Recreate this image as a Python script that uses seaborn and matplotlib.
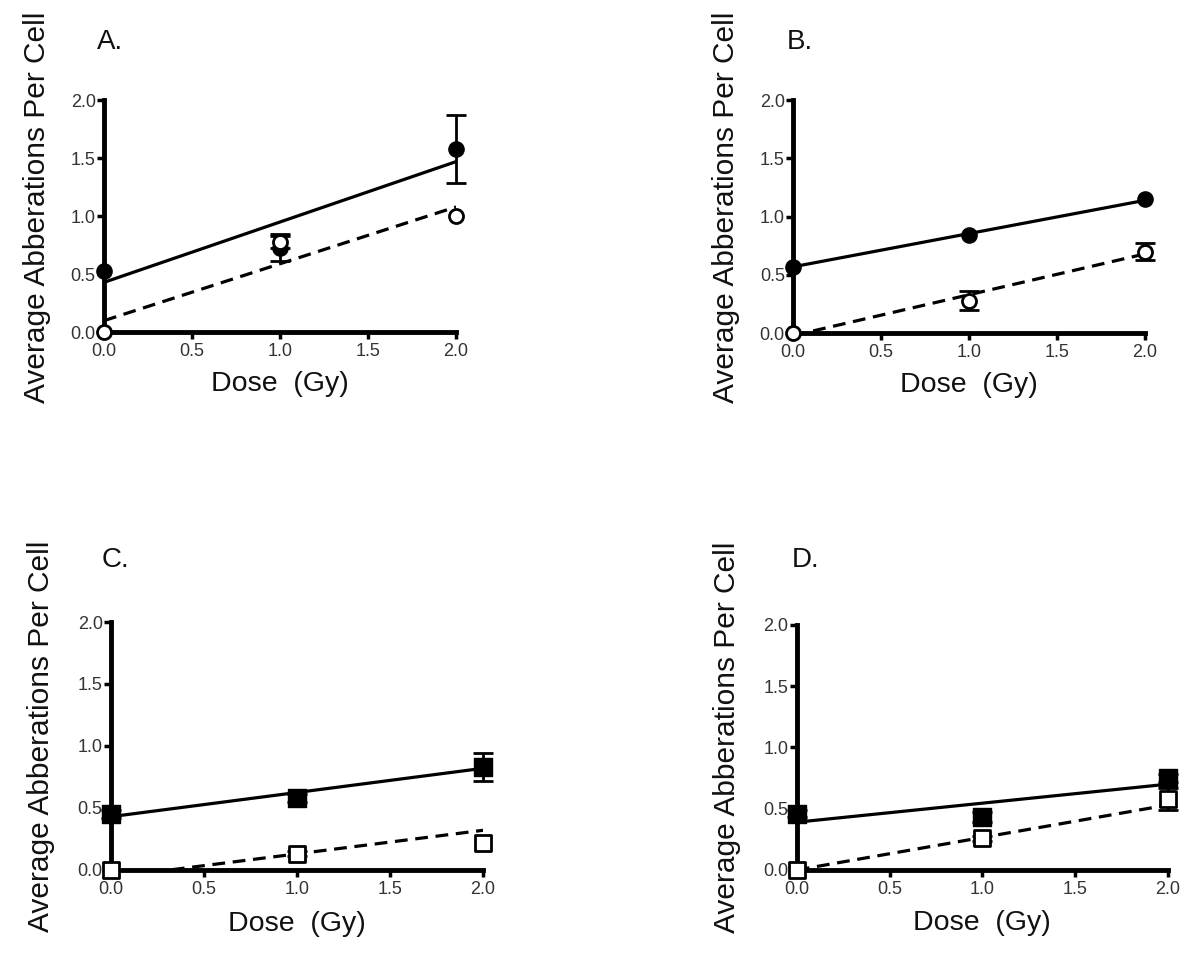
import numpy as np
import pandas as pd
import seaborn as sns
import matplotlib
matplotlib.use("Agg")
import matplotlib.pyplot as plt

# ------------------------------
# Data
# ------------------------------
dose = [0.0, 1.0, 2.0]
panels = ["A.", "B.", "C.", "D."]

a_filled = [0.53, 0.73, 1.58]
a_filled_err = [0.0, 0.12, 0.29]
a_open = [0.0, 0.78, 1.00]
a_open_err = [0.0, 0.05, 0.0]

b_filled = [0.57, 0.84, 1.15]
b_filled_err = [0.0, 0.0, 0.0]
b_open = [0.0, 0.28, 0.70]
b_open_err = [0.0, 0.08, 0.07]

c_filled = [0.45, 0.58, 0.83]
c_filled_err = [0.03, 0.03, 0.11]
c_open = [0.0, 0.13, 0.22]
c_open_err = [0.0, 0.02, 0.0]

d_filled = [0.46, 0.43, 0.75]
d_filled_err = [0.03, 0.04, 0.03]
d_open = [0.0, 0.26, 0.58]
d_open_err = [0.0, 0.02, 0.09]

# linear fit lines (intercept, slope) as drawn in the figure
fit_solid_intercept = [0.43, 0.57, 0.43, 0.39]
fit_solid_slope = [0.52, 0.285, 0.195, 0.155]
fit_dashed_intercept = [0.10, -0.02, -0.06, 0.0]
fit_dashed_slope = [0.49, 0.35, 0.19, 0.265]

filled = [a_filled, b_filled, c_filled, d_filled]
filled_err = [a_filled_err, b_filled_err, c_filled_err, d_filled_err]
opened = [a_open, b_open, c_open, d_open]
opened_err = [a_open_err, b_open_err, c_open_err, d_open_err]
marker_shape = ["o", "o", "s", "s"]

# ------------------------------
# Style
# ------------------------------
sns.set_style("ticks")
plt.rcParams['font.family'] = ['Liberation Sans', 'DejaVu Sans']

fig = plt.figure(figsize=(12, 9.63), dpi=100)

# axes rectangles [left, bottom, width, height]
rects = [
    [0.0867, 0.655, 0.2933, 0.241],
    [0.661, 0.654, 0.293, 0.242],
    [0.0925, 0.0966, 0.31, 0.2575],
    [0.664, 0.0966, 0.309, 0.2545],
]
letter_pos = [(0.081, 0.956), (0.656, 0.956), (0.085, 0.419), (0.66, 0.419)]


def draw_errors(ax, y, err):
    # only draw bars that have a visible spread
    keep = [k for k in range(len(dose)) if err[k] > 0]
    if keep:
        ax.errorbar([dose[k] for k in keep], [y[k] for k in keep],
                    yerr=[err[k] for k in keep], fmt="none", ecolor="black",
                    elinewidth=2, capsize=7, capthick=2, zorder=3, clip_on=False)


for i in range(4):
    ax = fig.add_axes(rects[i])
    mk = marker_shape[i]
    msize = 120 if mk == "o" else 160

    # fit lines
    xfit = np.array([min(dose), max(dose)])
    line_df = pd.DataFrame({
        "dose": np.concatenate([xfit, xfit]),
        "value": np.concatenate([fit_solid_intercept[i] + fit_solid_slope[i] * xfit,
                                 fit_dashed_intercept[i] + fit_dashed_slope[i] * xfit]),
        "series": ["solid"] * 2 + ["dashed"] * 2,
    })
    sns.lineplot(data=line_df, x="dose", y="value", style="series",
                 dashes={"solid": "", "dashed": (4, 2.4)}, color="black",
                 linewidth=2.3, legend=False, ax=ax, zorder=2)

    # error bars
    draw_errors(ax, filled[i], filled_err[i])
    draw_errors(ax, opened[i], opened_err[i])

    # points
    sns.scatterplot(x=dose, y=filled[i], marker=mk, s=msize, color="black",
                    edgecolor="black", linewidth=1, ax=ax, zorder=4, clip_on=False)
    sns.scatterplot(x=dose, y=opened[i], marker=mk, s=msize * 0.85, color="white",
                    edgecolor="black", linewidth=2, ax=ax, zorder=5, clip_on=False)

    ax.set_xlim(0, 2)
    ax.set_ylim(0, 2)
    ax.set_xticks([0.0, 0.5, 1.0, 1.5, 2.0])
    ax.set_yticks([0.0, 0.5, 1.0, 1.5, 2.0])
    ax.set_xticklabels(["0.0", "0.5", "1.0", "1.5", "2.0"])
    ax.set_yticklabels(["0.0", "0.5", "1.0", "1.5", "2.0"])
    sns.despine(ax=ax)
    for side in ["left", "bottom"]:
        ax.spines[side].set_linewidth(3.5)
        ax.spines[side].set_color("black")
    ax.tick_params(axis="both", direction="out", length=5, width=2.5,
                   color="black", labelsize=13, labelcolor="#333333", pad=1)
    ax.tick_params(axis="x", pad=3)

    ax.set_xlabel("Dose  (Gy)", fontsize=20.5, color="#111111")
    ax.set_ylabel("Average Abberations Per Cell", fontsize=21.5, color="#111111")
    ax.xaxis.set_label_coords(0.5, -0.165)
    ax.yaxis.set_label_coords(-0.15, 0.54)

    fig.text(letter_pos[i][0], letter_pos[i][1], panels[i], fontsize=20,
             color="#111111", ha="left", va="center")

fig.savefig("out.png", dpi=100)
